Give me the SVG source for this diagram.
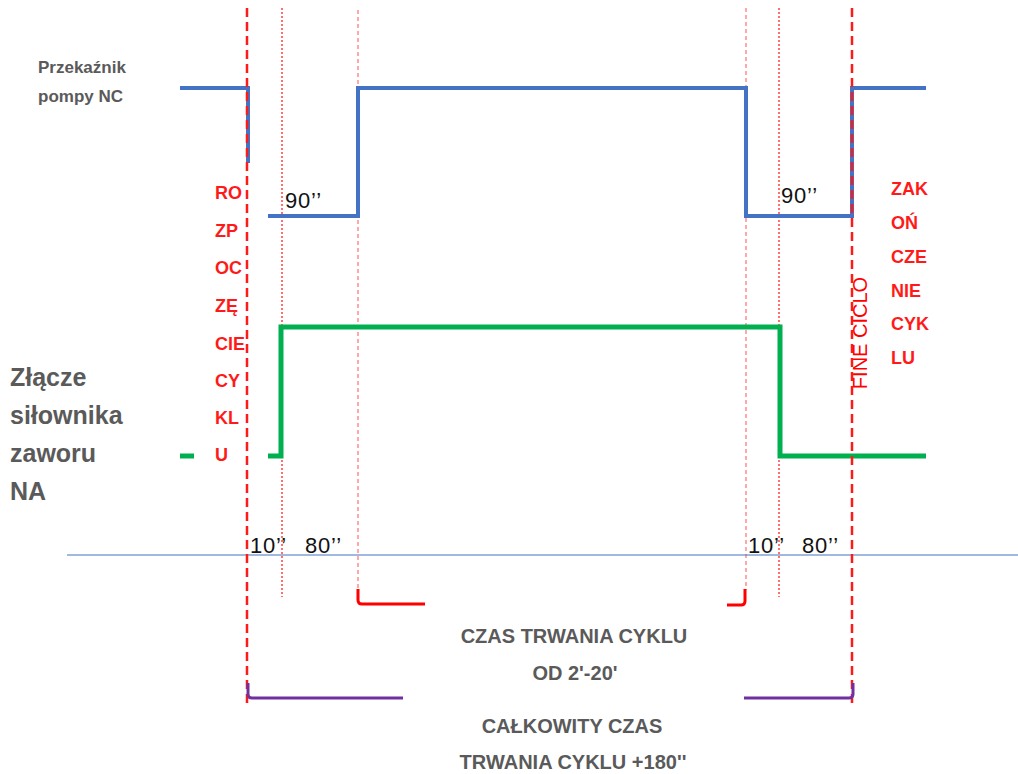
<svg xmlns="http://www.w3.org/2000/svg" width="1018" height="774" viewBox="0 0 1018 774">
<style>
.lbl{font-family:"Liberation Sans",Arial,sans-serif;font-weight:bold;fill:#5a5a5a}
.red{font-family:"Liberation Sans",Arial,sans-serif;font-weight:bold;fill:#ff1a1a;font-size:18px}
.num{font-family:"Liberation Sans",Arial,sans-serif;fill:#111;font-size:22px;letter-spacing:0.8px}
.thick{stroke:#ff1a1a;stroke-width:2.5;stroke-dasharray:9 5;fill:none}
.dot{stroke:#ff4d4d;stroke-width:1.6;stroke-dasharray:2 2;fill:none}
.thin{stroke:#ff7070;stroke-width:1.2;stroke-dasharray:4 3;fill:none}
.blue{stroke:#4472c4;stroke-width:4;fill:none}
.green{stroke:#00b050;stroke-width:5;fill:none}
</style>
<rect width="1018" height="774" fill="#fff"/>
<g id="guides">
<line class="dot" x1="282" y1="8" x2="282" y2="597"/>
<line class="thin" x1="358" y1="10" x2="358" y2="590"/>
<line class="thin" x1="746" y1="8" x2="746" y2="590"/>
<line class="dot" x1="779" y1="8" x2="779" y2="597"/>
<line x1="67" y1="555" x2="1018" y2="555" stroke="#4472c4" stroke-width="1.2"/>
</g>
<g id="pump-signal">
<path class="blue" d="M180 88 H248 V163"/>
<path class="blue" d="M268 216 H358 V88 H746 V216 H852 V88 H926"/>
</g>
<g id="valve-signal">
<path class="green" d="M180 456 H194"/>
<path class="green" d="M268 456 H281 V327 H780 V456 H926"/>
</g>
<g id="markers">
<line class="thick" x1="247" y1="8" x2="247" y2="706"/>
<line class="thick" x1="852" y1="8" x2="852" y2="706"/>
</g>
<g id="brackets">
<path d="M358 589 V600 Q358 604 362 604 H425" stroke="#ff0000" stroke-width="3" fill="none"/>
<path d="M727 605 H741 Q745 605 745 601 V589" stroke="#ff0000" stroke-width="3" fill="none"/>
<path d="M248 683 V694 Q248 698 252 698 H403" stroke="#7030a0" stroke-width="3" fill="none"/>
<path d="M744 698 H849 Q853 698 853 694 V683" stroke="#7030a0" stroke-width="3" fill="none"/>
</g>
<g id="label-pump">
<text class="lbl" x="38" y="73" font-size="17">Przekaźnik</text>
<text class="lbl" x="38" y="102" font-size="17">pompy NC</text>
</g>
<g id="label-valve" class="lbl" font-size="25">
<text x="10" y="386">Złącze</text>
<text x="10" y="424">siłownika</text>
<text x="10" y="462">zaworu</text>
<text x="10" y="500">NA</text>
</g>
<g id="label-start" class="red">
<text x="215" y="199">RO</text>
<text x="215" y="237">ZP</text>
<text x="215" y="274">OC</text>
<text x="215" y="312">ZĘ</text>
<text x="215" y="350">CIE</text>
<text x="215" y="387">CY</text>
<text x="215" y="424">KL</text>
<text x="215" y="461">U</text>
</g>
<g id="label-end" class="red">
<text x="891" y="195">ZAK</text>
<text x="891" y="229">OŃ</text>
<text x="891" y="263">CZE</text>
<text x="891" y="297">NIE</text>
<text x="891" y="330">CYK</text>
<text x="891" y="364">LU</text>
</g>
<g id="label-fine">
<text transform="translate(867,333) rotate(-90)" text-anchor="middle" font-family="Liberation Sans, Arial, sans-serif" font-size="20" fill="#ff0000">FINE CICLO</text>
</g>
<g id="times" class="num">
<text x="285" y="208">90’’</text>
<text x="781" y="203">90’’</text>
<text x="250" y="553">10’’</text>
<text x="305" y="553">80’’</text>
<text x="748" y="553">10’’</text>
<text x="802" y="553">80’’</text>
</g>
<g id="label-cycle" class="lbl" font-size="20" text-anchor="middle">
<text x="574" y="643">CZAS TRWANIA CYKLU</text>
<text x="575" y="680">OD 2'-20'</text>
<text x="572" y="733">CAŁKOWITY CZAS</text>
<text x="573" y="769">TRWANIA CYKLU +180''</text>
</g>
</svg>
